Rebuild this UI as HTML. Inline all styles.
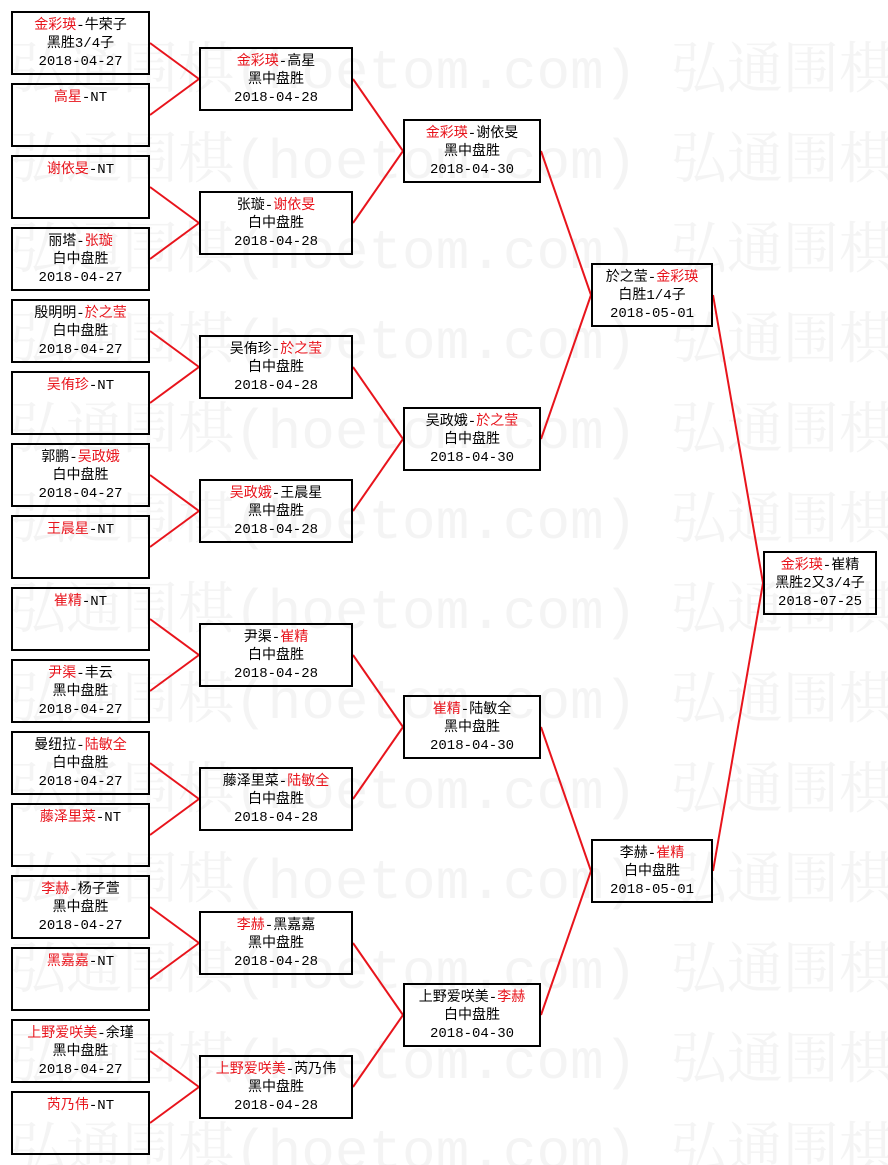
<!DOCTYPE html>
<html><head><meta charset="utf-8"><style>
html,body{margin:0;padding:0;background:#fff;}
body{width:888px;height:1165px;position:relative;overflow:hidden;font-family:"Liberation Mono","Noto Sans CJK SC",monospace;}
.b{position:absolute;box-sizing:border-box;height:64px;border:2px solid #000;background:transparent;text-align:center;font-size:14px;line-height:18px;padding-top:4px;color:#000;white-space:nowrap;}
.r{color:#e8141c;}
.c1{left:11px;width:139px;}
.c2{left:199px;width:154px;}
.c3{left:403px;width:138px;}
.c4{left:591px;width:122px;}
.c5{left:763px;width:114px;}
svg{position:absolute;left:0;top:0;}
</style></head><body>
<svg width="888" height="1165" style="z-index:0">
<g font-family="Liberation Mono, Noto Serif CJK SC, monospace" font-size="56" fill="#f4f4f4">
<text x="10" y="88">弘通围棋(hoetom.com) 弘通围棋</text>
<text x="10" y="178">弘通围棋(hoetom.com) 弘通围棋</text>
<text x="10" y="268">弘通围棋(hoetom.com) 弘通围棋</text>
<text x="10" y="358">弘通围棋(hoetom.com) 弘通围棋</text>
<text x="10" y="448">弘通围棋(hoetom.com) 弘通围棋</text>
<text x="10" y="538">弘通围棋(hoetom.com) 弘通围棋</text>
<text x="10" y="628">弘通围棋(hoetom.com) 弘通围棋</text>
<text x="10" y="718">弘通围棋(hoetom.com) 弘通围棋</text>
<text x="10" y="808">弘通围棋(hoetom.com) 弘通围棋</text>
<text x="10" y="898">弘通围棋(hoetom.com) 弘通围棋</text>
<text x="10" y="988">弘通围棋(hoetom.com) 弘通围棋</text>
<text x="10" y="1078">弘通围棋(hoetom.com) 弘通围棋</text>
<text x="10" y="1168">弘通围棋(hoetom.com) 弘通围棋</text>
</g>
<g stroke="#e8141c" stroke-width="2" fill="none">
<line x1="150" y1="43" x2="199" y2="79"/><line x1="150" y1="115" x2="199" y2="79"/>
<line x1="150" y1="187" x2="199" y2="223"/><line x1="150" y1="259" x2="199" y2="223"/>
<line x1="150" y1="331" x2="199" y2="367"/><line x1="150" y1="403" x2="199" y2="367"/>
<line x1="150" y1="475" x2="199" y2="511"/><line x1="150" y1="547" x2="199" y2="511"/>
<line x1="150" y1="619" x2="199" y2="655"/><line x1="150" y1="691" x2="199" y2="655"/>
<line x1="150" y1="763" x2="199" y2="799"/><line x1="150" y1="835" x2="199" y2="799"/>
<line x1="150" y1="907" x2="199" y2="943"/><line x1="150" y1="979" x2="199" y2="943"/>
<line x1="150" y1="1051" x2="199" y2="1087"/><line x1="150" y1="1123" x2="199" y2="1087"/>
<line x1="353" y1="79" x2="403" y2="151"/><line x1="353" y1="223" x2="403" y2="151"/>
<line x1="353" y1="367" x2="403" y2="439"/><line x1="353" y1="511" x2="403" y2="439"/>
<line x1="353" y1="655" x2="403" y2="727"/><line x1="353" y1="799" x2="403" y2="727"/>
<line x1="353" y1="943" x2="403" y2="1015"/><line x1="353" y1="1087" x2="403" y2="1015"/>
<line x1="541" y1="151" x2="591" y2="295"/><line x1="541" y1="439" x2="591" y2="295"/>
<line x1="541" y1="727" x2="591" y2="871"/><line x1="541" y1="1015" x2="591" y2="871"/>
<line x1="713" y1="295" x2="763" y2="583"/><line x1="713" y1="871" x2="763" y2="583"/>
</g>
</svg>

<div class="b c1" style="top:11px"><span class="r">金彩瑛</span>-牛荣子<br>黑胜3/4子<br>2018-04-27</div>
<div class="b c1" style="top:83px"><span class="r">高星</span>-NT</div>
<div class="b c1" style="top:155px"><span class="r">谢依旻</span>-NT</div>
<div class="b c1" style="top:227px">丽塔-<span class="r">张璇</span><br>白中盘胜<br>2018-04-27</div>
<div class="b c1" style="top:299px">殷明明-<span class="r">於之莹</span><br>白中盘胜<br>2018-04-27</div>
<div class="b c1" style="top:371px"><span class="r">吴侑珍</span>-NT</div>
<div class="b c1" style="top:443px">郭鹏-<span class="r">吴政娥</span><br>白中盘胜<br>2018-04-27</div>
<div class="b c1" style="top:515px"><span class="r">王晨星</span>-NT</div>
<div class="b c1" style="top:587px"><span class="r">崔精</span>-NT</div>
<div class="b c1" style="top:659px"><span class="r">尹渠</span>-丰云<br>黑中盘胜<br>2018-04-27</div>
<div class="b c1" style="top:731px">曼纽拉-<span class="r">陆敏全</span><br>白中盘胜<br>2018-04-27</div>
<div class="b c1" style="top:803px"><span class="r">藤泽里菜</span>-NT</div>
<div class="b c1" style="top:875px"><span class="r">李赫</span>-杨子萱<br>黑中盘胜<br>2018-04-27</div>
<div class="b c1" style="top:947px"><span class="r">黑嘉嘉</span>-NT</div>
<div class="b c1" style="top:1019px"><span class="r">上野爱咲美</span>-余瑾<br>黑中盘胜<br>2018-04-27</div>
<div class="b c1" style="top:1091px"><span class="r">芮乃伟</span>-NT</div>

<div class="b c2" style="top:47px"><span class="r">金彩瑛</span>-高星<br>黑中盘胜<br>2018-04-28</div>
<div class="b c2" style="top:191px">张璇-<span class="r">谢依旻</span><br>白中盘胜<br>2018-04-28</div>
<div class="b c2" style="top:335px">吴侑珍-<span class="r">於之莹</span><br>白中盘胜<br>2018-04-28</div>
<div class="b c2" style="top:479px"><span class="r">吴政娥</span>-王晨星<br>黑中盘胜<br>2018-04-28</div>
<div class="b c2" style="top:623px">尹渠-<span class="r">崔精</span><br>白中盘胜<br>2018-04-28</div>
<div class="b c2" style="top:767px">藤泽里菜-<span class="r">陆敏全</span><br>白中盘胜<br>2018-04-28</div>
<div class="b c2" style="top:911px"><span class="r">李赫</span>-黑嘉嘉<br>黑中盘胜<br>2018-04-28</div>
<div class="b c2" style="top:1055px"><span class="r">上野爱咲美</span>-芮乃伟<br>黑中盘胜<br>2018-04-28</div>

<div class="b c3" style="top:119px"><span class="r">金彩瑛</span>-谢依旻<br>黑中盘胜<br>2018-04-30</div>
<div class="b c3" style="top:407px">吴政娥-<span class="r">於之莹</span><br>白中盘胜<br>2018-04-30</div>
<div class="b c3" style="top:695px"><span class="r">崔精</span>-陆敏全<br>黑中盘胜<br>2018-04-30</div>
<div class="b c3" style="top:983px">上野爱咲美-<span class="r">李赫</span><br>白中盘胜<br>2018-04-30</div>

<div class="b c4" style="top:263px">於之莹-<span class="r">金彩瑛</span><br>白胜1/4子<br>2018-05-01</div>
<div class="b c4" style="top:839px">李赫-<span class="r">崔精</span><br>白中盘胜<br>2018-05-01</div>

<div class="b c5" style="top:551px"><span class="r">金彩瑛</span>-崔精<br>黑胜2又3/4子<br>2018-07-25</div>
</body></html>
